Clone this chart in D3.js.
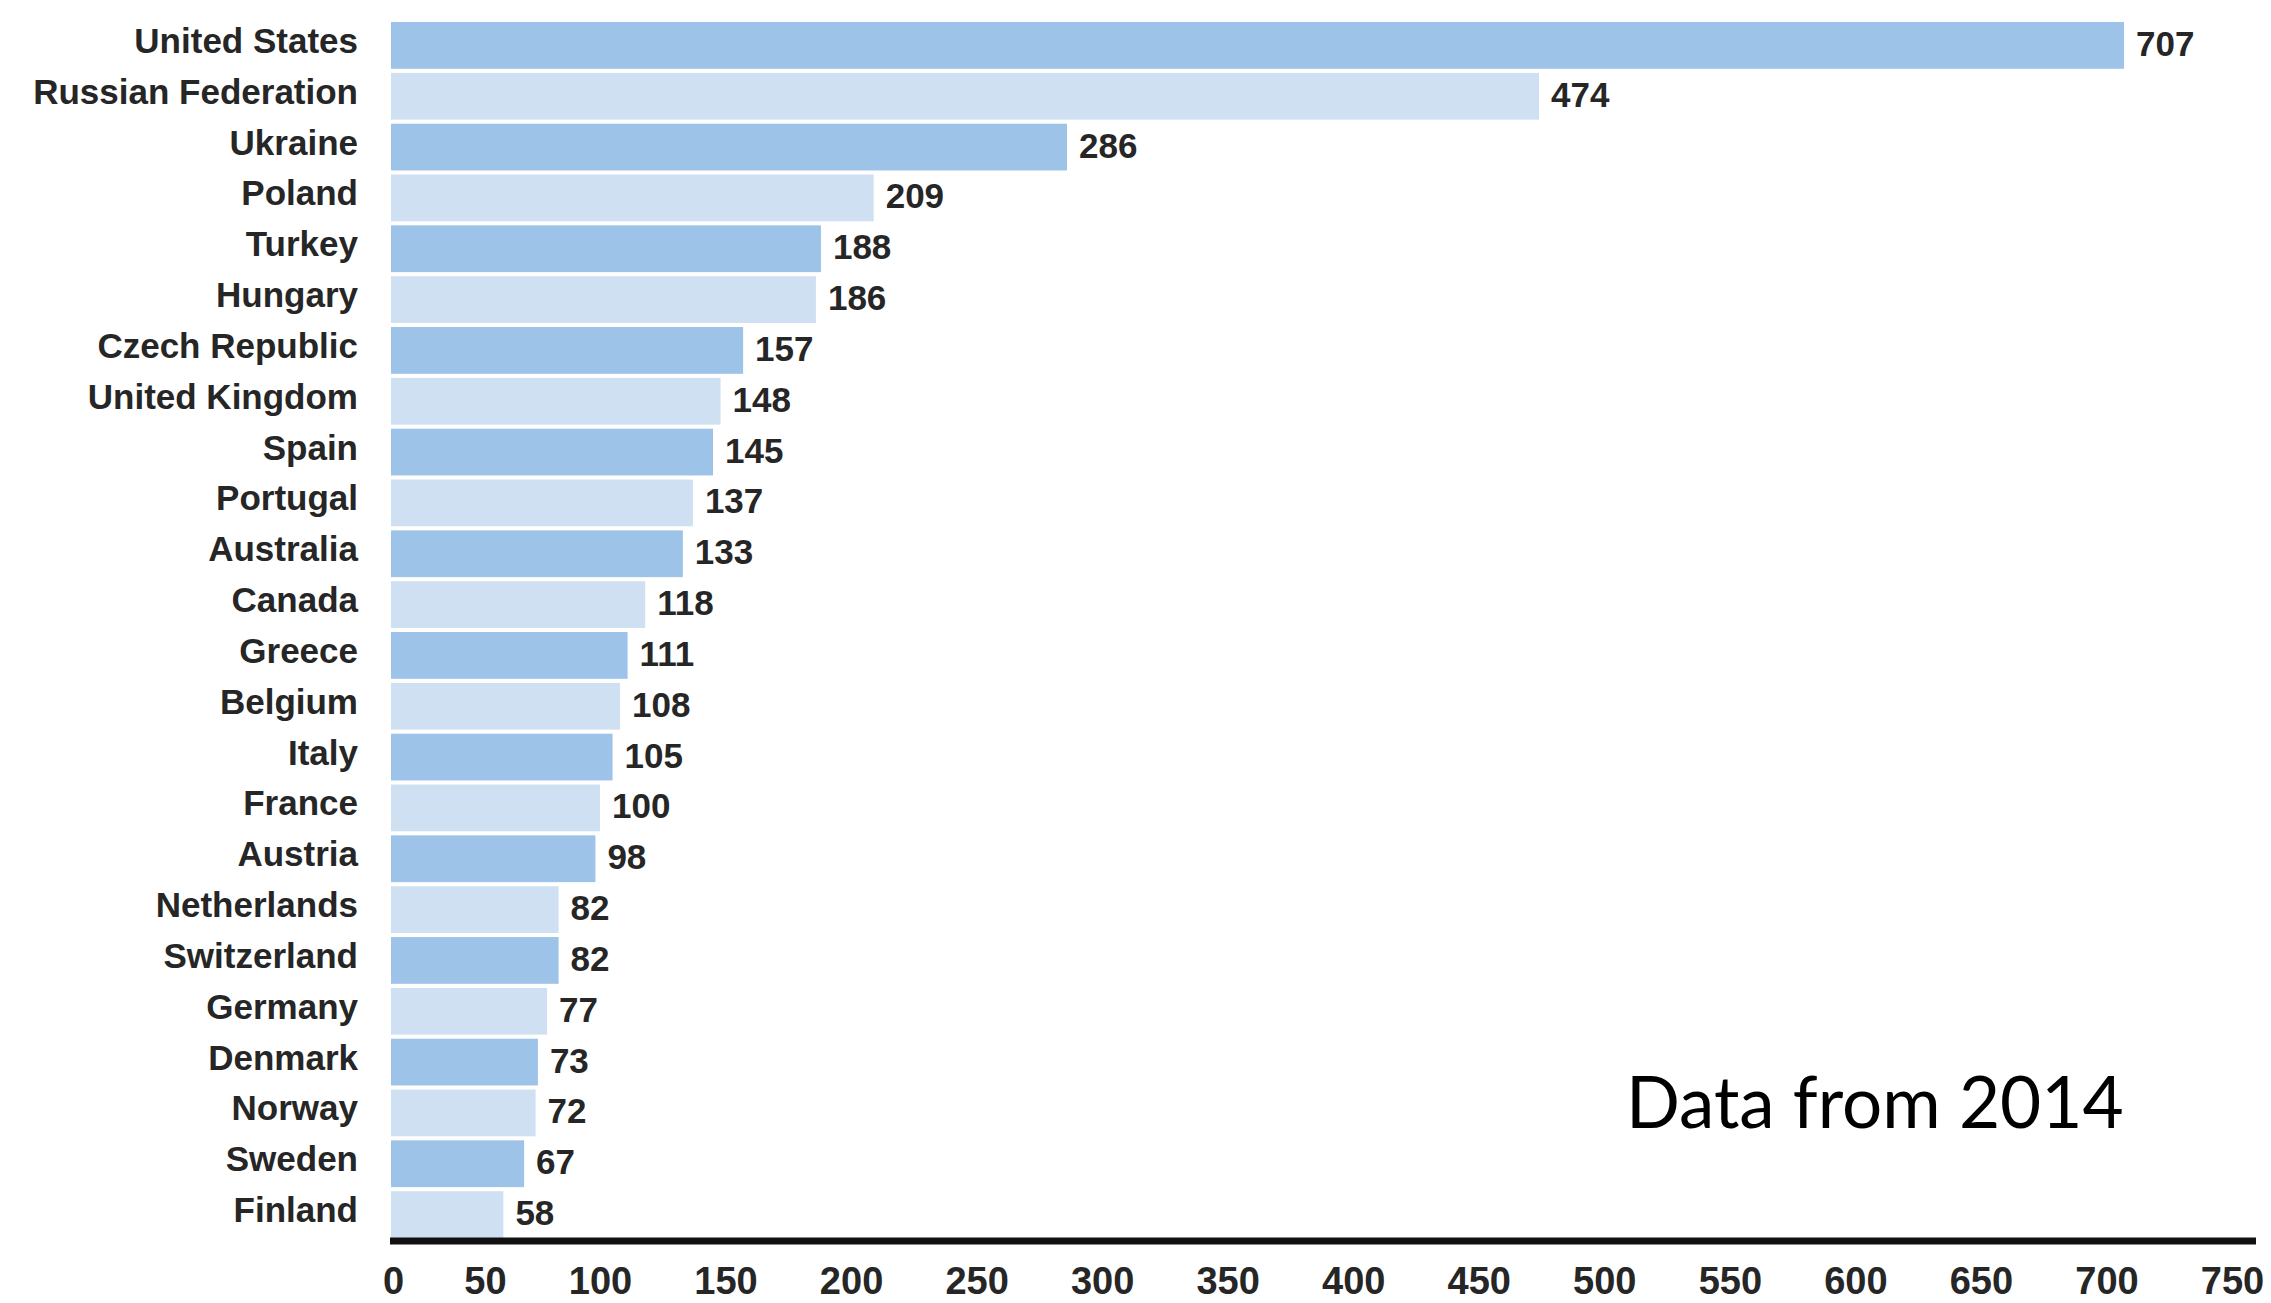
<!DOCTYPE html>
<html>
<head>
<meta charset="utf-8">
<script src="https://cdn.jsdelivr.net/npm/d3@7"></script>
<style>
  html, body { margin: 0; padding: 0; background: #ffffff; }
  svg { display: block; }
</style>
</head>
<body>
<svg id="chart" width="2271" height="1303"></svg>
<script>
// ---- data ----
const countries = ["United States","Russian Federation","Ukraine","Poland","Turkey","Hungary",
  "Czech Republic","United Kingdom","Spain","Portugal","Australia","Canada","Greece","Belgium",
  "Italy","France","Austria","Netherlands","Switzerland","Germany","Denmark","Norway","Sweden","Finland"];
const values = [707,474,286,209,188,186,157,148,145,137,133,118,111,108,105,100,98,82,82,77,73,72,67,58];
const tickValues = [0,50,100,150,200,250,300,350,400,450,500,550,600,650,700,750];
const note = "Data from 2014";

// ---- layout ----
const svg = d3.select("#chart");
const colors = ["#9dc3e8", "#cfe0f3"];
const textColor = "#262626";
const labelFont = "'Liberation Sans', Arial, Helvetica, sans-serif";

// x scale (the reference axis is compressed near zero, so a polylinear scale reproduces it)
const x = d3.scaleLinear()
  .domain([0, 50, 100, 750])
  .range([393, 485, 600, 2232]);

const y = d3.scaleBand()
  .domain(countries)
  .range([20, 1240])
  .paddingInner(0.08)
  .paddingOuter(0.04);

const data = countries.map((c, i) => ({country: c, value: values[i], i}));

// bars
svg.append("g").selectAll("rect")
  .data(data)
  .join("rect")
  .attr("x", x(0) - 2)
  .attr("y", d => y(d.country))
  .attr("width", d => x(d.value) - x(0) + 2)
  .attr("height", y.bandwidth())
  .attr("fill", d => colors[d.i % 2]);

// category labels
svg.append("g").selectAll("text")
  .data(data)
  .join("text")
  .attr("x", 358)
  .attr("y", d => y(d.country) + y.bandwidth() / 2 - 5)
  .attr("text-anchor", "end")
  .attr("dominant-baseline", "central")
  .attr("font-family", labelFont)
  .attr("font-weight", "bold")
  .attr("font-size", 35)
  .attr("fill", textColor)
  .text(d => d.country);

// value labels
svg.append("g").selectAll("text")
  .data(data)
  .join("text")
  .attr("x", d => x(d.value) + 12)
  .attr("y", d => y(d.country) + y.bandwidth() / 2 - 2)
  .attr("dominant-baseline", "central")
  .attr("font-family", labelFont)
  .attr("font-weight", "bold")
  .attr("font-size", 35)
  .attr("fill", textColor)
  .text(d => d.value);

// x axis
const axisY = 1241;
const axis = d3.axisBottom(x)
  .tickValues(tickValues)
  .tickSize(0)
  .tickPadding(26)
  .tickFormat(d3.format("d"));
const gx = svg.append("g")
  .attr("transform", `translate(0,${axisY})`)
  .call(axis);
gx.select(".domain").remove();
gx.selectAll("text")
  .attr("font-family", labelFont)
  .attr("font-weight", "bold")
  .attr("font-size", 38)
  .attr("fill", textColor);

// axis baseline
svg.append("line")
  .attr("x1", x(0) - 3)
  .attr("x2", 2256)
  .attr("y1", axisY)
  .attr("y2", axisY)
  .attr("stroke", "#111")
  .attr("stroke-width", 7);

// note
svg.append("text")
  .attr("x", 1626)
  .attr("y", 1128)
  .attr("font-family", "Lato, 'Open Sans', sans-serif")
  .attr("font-size", 71)
  .attr("fill", "#000")
  .text(note);
</script>
</body>
</html>
